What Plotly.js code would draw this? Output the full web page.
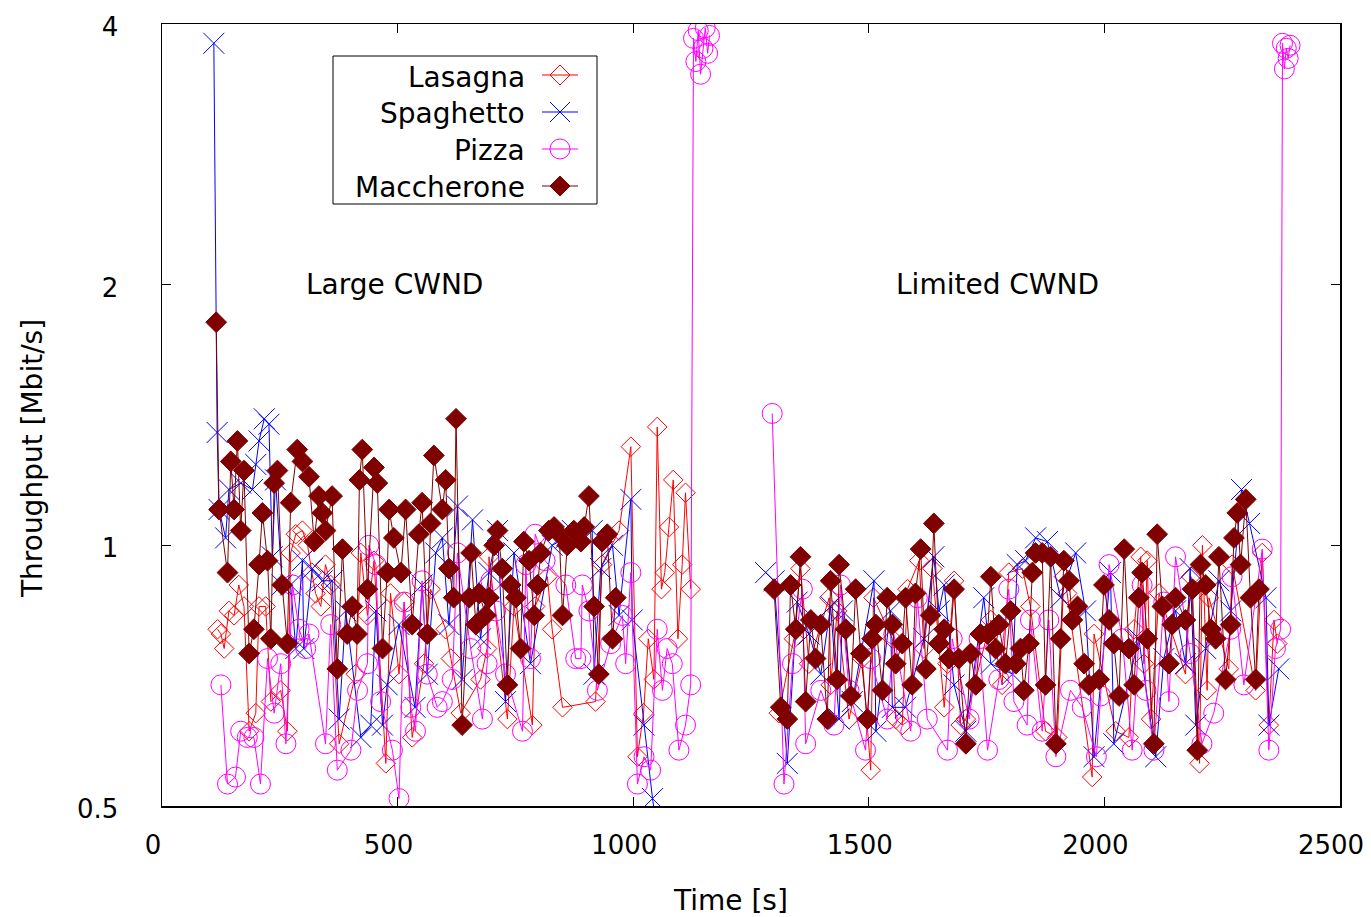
<!DOCTYPE html>
<html><head><meta charset="utf-8">
<script src="https://cdn.plot.ly/plotly-3.0.1.min.js"></script>
<style>html,body{margin:0;padding:0;background:#fff}#chart{width:1371px;height:917px}</style>
</head><body><div id="chart"></div>
<script>
// ---- data (Time [s], Throughput [Mbit/s]) ----
const lasX1 = [118,125,132,142,153,163,174,185,199,206,220,231,252,266,273,284,298,309,318,326,337,347,358,376,411,422,436,450,475,485,503,514,531,556,570,602,613,634,676,690,694,733,747,786,792,818,828,850,920,934,970,995,1009,1022,1032,1044,1051,1060,1067,1076,1085,1095,1104,1111,1122];
const lasY1 = [0.80,0.79,0.76,0.84,0.83,0.90,0.85,0.61,0.64,0.85,0.85,0.66,0.68,0.61,0.98,1.03,1.04,1.00,0.93,0.88,0.85,0.95,0.90,0.59,0.71,0.98,0.83,0.96,0.56,0.88,0.71,0.86,0.60,0.73,0.89,0.80,0.74,0.64,0.70,0.76,0.97,0.63,0.85,0.62,0.85,0.92,0.80,0.65,0.66,0.95,1.04,1.30,0.57,0.64,0.78,0.70,1.37,0.89,0.93,1.05,1.19,0.78,0.95,1.15,0.89];
const lasX2 = [1309,1341,1355,1373,1416,1419,1433,1458,1486,1504,1510,1550,1557,1571,1582,1607,1617,1635,1660,1667,1681,1695,1706,1759,1783,1797,1826,1843,1875,1900,1914,1921,1974,1978,2024,2052,2063,2077,2084,2091,2099,2116,2172,2184,2202,2208,2218,2222,2264,2271,2321,2335,2349,2360,2367];
const lasY2 = [0.64,0.78,0.94,0.73,0.87,0.69,0.84,0.63,0.74,0.55,0.87,0.78,0.63,0.62,0.89,0.96,0.76,0.94,0.65,0.73,0.91,0.62,0.63,0.82,0.69,0.93,0.94,0.85,0.61,0.60,0.92,0.88,0.54,0.79,0.61,0.60,0.80,0.97,0.73,0.96,0.63,0.88,0.71,0.92,0.56,1.00,0.68,0.87,0.72,0.95,0.68,0.98,0.62,0.82,0.77];

const spaX1 = [110,117,121,135,142,167,192,199,206,217,227,234,241,255,273,284,298,301,319,340,361,376,390,422,443,454,468,478,503,537,552,563,581,595,609,627,637,659,676,694,712,729,747,782,828,857,871,913,917,931,956,970,995,998,1023,1041,1048];
const spaY1 = [3.80,1.35,1.10,1.02,1.16,1.18,1.16,1.24,1.32,1.40,1.38,0.97,1.19,0.90,0.90,0.76,0.96,0.76,0.94,0.91,0.91,0.63,0.84,0.60,0.62,0.84,0.62,0.69,0.81,0.65,0.90,0.71,0.98,1.02,0.81,1.11,0.70,1.07,0.78,0.93,1.04,0.66,0.98,0.73,1.00,1.02,1.04,1.04,0.71,0.94,1.00,0.83,1.13,0.82,0.62,0.51,0.48];
const spaX2 = [1281,1299,1327,1348,1373,1398,1419,1437,1444,1465,1511,1515,1546,1550,1578,1617,1638,1649,1660,1681,1706,1744,1759,1805,1815,1833,1854,1879,1907,1939,1960,1978,2013,2020,2073,2109,2126,2151,2172,2182,2194,2215,2243,2268,2291,2308,2343,2349,2370];
const spaY2 = [0.93,0.91,0.56,0.86,0.79,0.71,0.85,0.63,0.84,0.66,0.91,0.61,0.84,0.65,0.65,0.78,0.97,0.84,0.90,0.69,0.61,0.87,0.73,0.71,0.95,0.96,1.02,1.01,0.87,0.98,0.84,0.57,0.93,0.59,0.78,0.57,0.74,0.84,0.73,0.94,0.62,0.76,0.91,0.84,1.16,1.06,0.87,0.62,0.72];

const pizX1 = [125,139,156,167,181,195,209,224,238,252,263,277,291,305,312,347,358,372,401,415,436,439,454,464,489,503,514,528,538,552,563,584,595,616,627,655,680,690,698,708,729,765,772,782,792,813,857,878,889,892,906,924,952,977,984,995,1009,1023,1037,1051,1062,1072,1083,1097,1111,1122,1128,1133,1138,1143,1148,1153,1158,1162];
const pizY1 = [0.69,0.53,0.54,0.61,0.60,0.60,0.53,0.74,0.64,0.73,0.59,0.90,0.80,0.76,0.79,0.59,0.81,0.55,0.58,0.68,0.73,1.00,0.95,0.66,0.58,0.51,0.86,0.65,0.61,0.91,0.71,0.65,0.66,0.70,0.98,0.76,0.63,0.73,0.91,0.84,0.71,0.61,0.95,0.74,1.03,0.96,0.90,0.74,0.74,0.90,0.84,0.68,0.77,0.83,0.73,0.93,0.53,0.57,0.55,0.80,0.68,0.76,0.73,0.58,0.62,0.69,3.85,3.62,3.93,3.50,3.75,3.96,3.70,3.88];
const pizX2 = [1295,1320,1338,1359,1366,1398,1426,1440,1458,1493,1504,1539,1553,1589,1603,1624,1667,1677,1713,1734,1752,1776,1797,1808,1836,1843,1868,1882,1897,1928,1953,1983,1992,2010,2038,2059,2080,2088,2105,2126,2137,2151,2182,2207,2232,2268,2271,2296,2335,2349,2363,2374,2378,2382,2386,2390,2394];
const pizY2 = [1.42,0.53,0.73,0.89,0.59,0.68,0.62,0.90,0.68,0.58,0.74,0.63,0.79,0.61,0.87,0.63,0.58,0.78,0.63,0.78,0.58,0.70,0.89,0.66,0.62,0.82,0.61,0.82,0.57,0.68,0.65,0.57,0.67,0.95,0.78,0.58,0.90,0.68,0.58,0.86,0.66,0.97,0.75,0.59,0.64,0.80,0.92,0.69,0.99,0.58,0.76,0.80,3.80,3.55,3.75,3.65,3.78];

const macX1 = [115,121,139,146,153,160,167,174,185,195,206,213,224,231,238,245,255,266,273,287,298,312,323,333,340,347,361,372,383,393,404,414,419,425,436,450,457,468,478,482,492,507,517,531,545,552,563,570,577,595,602,609,619,624,637,652,656,666,673,687,694,705,712,722,733,740,751,761,768,779,790,797,804,821,832,843,850,860,874,889,896,906,917,927,934,945,956,963];
const macY1 = [1.81,1.10,0.93,1.25,1.10,1.32,1.04,1.22,0.75,0.80,0.95,1.09,0.96,0.78,1.18,1.22,0.90,0.77,1.12,1.29,1.25,1.20,1.01,1.14,1.09,1.04,1.14,0.72,0.99,0.79,0.85,0.79,1.19,1.29,0.89,1.23,1.18,0.76,0.93,1.10,1.02,0.93,1.10,0.81,1.03,1.12,0.79,1.06,1.27,1.10,1.19,0.94,0.87,1.40,0.62,0.87,0.98,0.81,0.88,0.83,0.87,1.00,1.04,0.94,0.69,0.90,0.87,0.76,1.01,0.96,0.83,0.90,0.98,1.04,1.05,1.03,0.83,1.00,1.04,1.01,1.05,1.14,0.85,0.71,1.01,1.03,0.78,0.87];
const macX2 = [1299,1313,1327,1334,1345,1355,1366,1377,1387,1398,1412,1419,1433,1437,1451,1462,1472,1483,1497,1507,1515,1529,1539,1550,1557,1571,1578,1592,1599,1610,1621,1631,1638,1649,1660,1670,1681,1691,1706,1716,1727,1737,1752,1759,1769,1776,1790,1801,1812,1822,1829,1840,1847,1854,1868,1875,1886,1897,1907,1914,1925,1932,1943,1957,1967,1989,1999,2010,2020,2031,2042,2052,2063,2073,2080,2091,2105,2112,2123,2137,2144,2151,2172,2187,2197,2204,2215,2226,2236,2243,2257,2268,2275,2282,2289,2300,2310,2321,2328];
const macY2 = [0.89,0.65,0.63,0.90,0.80,0.97,0.66,0.82,0.74,0.81,0.63,0.91,0.70,0.95,0.80,0.67,0.89,0.75,0.63,0.78,0.81,0.68,0.87,0.81,0.73,0.77,0.87,0.69,0.88,0.99,0.72,0.83,1.06,0.77,0.80,0.74,0.89,0.74,0.59,0.75,0.69,0.79,0.79,0.92,0.76,0.81,0.73,0.84,0.73,0.76,0.68,0.77,0.93,0.98,0.98,0.69,0.97,0.59,0.78,0.96,0.91,0.82,0.85,0.73,0.69,0.70,0.90,0.82,0.77,0.67,0.99,0.76,0.69,0.87,0.93,0.78,0.59,1.03,0.85,0.73,0.81,0.87,0.82,0.89,0.58,0.95,0.90,0.80,0.78,0.97,0.70,0.81,1.02,1.09,0.95,1.13,0.87,0.70,0.89];

const seriesNames = ['Lasagna', 'Spaghetto', 'Pizza', 'Maccherone'];
const xTicks = [0, 500, 1000, 1500, 2000, 2500];
const yTicks = [0.5, 1, 2, 4];
const yTickText = ['0.5', '1', '2', '4'];

// ---- styling ----
const FONT = 'DejaVu Sans, Verdana, sans-serif';
const FS = 28;
const colors = ['#ff0000', '#0000ff', '#ff00ff', '#800000'];
const symbols = ['diamond-open', 'x-thin-open', 'circle-open', 'diamond'];
const sizes = [15, 21, 20, 16];

function joinRuns(a, b) { return a.concat([null], b); }
const xs = [joinRuns(lasX1, lasX2), joinRuns(spaX1, spaX2), joinRuns(pizX1, pizX2), joinRuns(macX1, macX2)];
const ys = [joinRuns(lasY1, lasY2), joinRuns(spaY1, spaY2), joinRuns(pizY1, pizY2), joinRuns(macY1, macY2)];

const traces = seriesNames.map((name, i) => ({
  type: 'scatter', mode: 'lines+markers', name: name,
  x: xs[i], y: ys[i], connectgaps: false, showlegend: false,
  line: { color: colors[i], width: 1 },
  marker: { symbol: symbols[i], size: sizes[i], color: colors[i], line: { color: colors[i], width: 1 } }
}));

// legend geometry in paper coords
const W = 1178, H = 782, L = 162, T = 24;
const px = p => (p - L) / W;
const py = p => (T + H - p) / H;
const rowsY = [75, 112, 149, 186];
const mx = px(560);
const shapes = [
  { type: 'rect', xref: 'paper', yref: 'paper', x0: px(333), x1: px(597), y0: py(204), y1: py(56), line: { color: '#000', width: 1 }, fillcolor: 'rgba(0,0,0,0)' }
];
const annotations = [];
seriesNames.forEach((name, i) => {
  const yy = py(rowsY[i]);
  annotations.push({ xref: 'paper', yref: 'paper', x: px(527), y: py(rowsY[i] + 2), xanchor: 'right', yanchor: 'middle', text: name, showarrow: false, font: { family: FONT, size: FS, color: '#000' } });
  shapes.push({ type: 'line', xref: 'paper', yref: 'paper', x0: px(542), x1: px(578), y0: yy, y1: yy, line: { color: colors[i], width: 1 } });
  const base = { xref: 'paper', yref: 'paper', xsizemode: 'pixel', ysizemode: 'pixel', xanchor: mx, yanchor: yy };
  if (i === 0) shapes.push(Object.assign({ type: 'path', path: 'M -10 0 L 0 10 L 10 0 L 0 -10 Z', line: { color: colors[i], width: 1 }, fillcolor: 'rgba(0,0,0,0)' }, base));
  if (i === 1) shapes.push(Object.assign({ type: 'path', path: 'M -10 -10 L 10 10 M -10 10 L 10 -10', line: { color: colors[i], width: 1 } }, base));
  if (i === 2) shapes.push(Object.assign({ type: 'circle', x0: -10, x1: 10, y0: -10, y1: 10, line: { color: colors[i], width: 1 }, fillcolor: 'rgba(0,0,0,0)' }, base));
  if (i === 3) shapes.push(Object.assign({ type: 'path', path: 'M -10 0 L 0 10 L 10 0 L 0 -10 Z', line: { color: colors[i], width: 1 }, fillcolor: colors[i] }, base));
});

annotations.push({ xref: 'x', yref: 'y', x: 494, y: Math.log10(2), xanchor: 'center', yanchor: 'middle', text: 'Large CWND', showarrow: false, font: { family: FONT, size: FS, color: '#000' } });
annotations.push({ xref: 'x', yref: 'y', x: 1774, y: Math.log10(2), xanchor: 'center', yanchor: 'middle', text: 'Limited CWND', showarrow: false, font: { family: FONT, size: FS, color: '#000' } });
annotations.push({ xref: 'paper', yref: 'paper', x: px(32), y: py(459), xanchor: 'center', yanchor: 'middle', text: 'Throughput [Mbit/s]', textangle: -90, showarrow: false, font: { family: FONT, size: FS, color: '#000' } });
annotations.push({ xref: 'paper', yref: 'paper', x: px(730), y: py(900), xanchor: 'center', yanchor: 'middle', text: 'Time [s]', showarrow: false, font: { family: FONT, size: FS, color: '#000' } });

const axisCommon = {
  showline: true, mirror: 'ticks', linecolor: '#000', linewidth: 1.5,
  ticks: 'inside', ticklen: 9, tickwidth: 1, tickcolor: '#000',
  showgrid: false, zeroline: false, ticklabeloverflow: 'allow',
  tickfont: { family: FONT, size: 26, color: '#000' }
};

const layout = {
  width: 1371, height: 917,
  margin: { l: L, r: 1371 - L - W, t: T, b: 917 - T - H, pad: 0 },
  paper_bgcolor: '#fff', plot_bgcolor: '#fff',
  showlegend: false,
  xaxis: Object.assign({}, axisCommon, { range: [0, 2500], tickvals: xTicks, ticktext: xTicks.map(String), ticklabelstandoff: 15, ticklabelshift: -9 }),
  yaxis: Object.assign({}, axisCommon, { type: 'log', range: [Math.log10(0.5), Math.log10(4)], tickvals: yTicks, ticktext: yTickText, ticklabelstandoff: 37, ticklabelshift: 3 }),
  shapes: shapes,
  annotations: annotations
};

Plotly.newPlot('chart', traces, layout, { staticPlot: true, displayModeBar: false });
</script>
</body></html>
